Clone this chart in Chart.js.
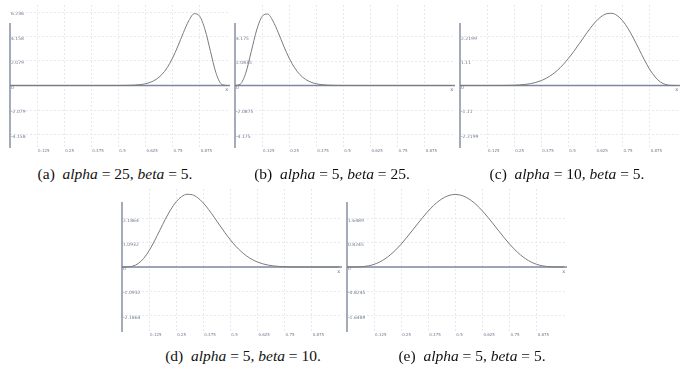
<!DOCTYPE html>
<html>
<head>
<meta charset="utf-8">
<script src="https://cdn.jsdelivr.net/npm/chart.js"></script>
<style>
  html, body { margin:0; padding:0; background:#fff; }
  body { width:685px; height:371px; position:relative; overflow:hidden; }
  canvas { position:absolute; }
  .cap { position:absolute; transform:translateX(-50%); white-space:nowrap;
         font-family:"Liberation Serif","DejaVu Serif",serif; font-size:15.5px; color:#111; line-height:16px; }
  .cap i { font-style:italic; }
</style>
</head>
<body>
<canvas id="ca" width="240" height="160"></canvas>
<canvas id="cb" width="240" height="160"></canvas>
<canvas id="cc" width="240" height="160"></canvas>
<canvas id="cd" width="240" height="161"></canvas>
<canvas id="ce" width="240" height="161"></canvas>
<div class="cap" style="left:115px;top:166px">(a)&nbsp; <i>alpha</i> = 25, <i>beta</i> = 5.</div>
<div class="cap" style="left:332px;top:166px">(b)&nbsp; <i>alpha</i> = 5, <i>beta</i> = 25.</div>
<div class="cap" style="left:567px;top:166px">(c)&nbsp; <i>alpha</i> = 10, <i>beta</i> = 5.</div>
<div class="cap" style="left:243px;top:348px">(d)&nbsp; <i>alpha</i> = 5, <i>beta</i> = 10.</div>
<div class="cap" style="left:472px;top:348px">(e)&nbsp; <i>alpha</i> = 5, <i>beta</i> = 5.</div>
<script>
// ---- data ----
const xValues = [0,0.025,0.05,0.075,0.1,0.125,0.15,0.175,0.2,0.225,0.25,0.275,0.3,0.325,0.35,0.375,0.4,0.425,0.45,0.475,0.5,
                 0.525,0.55,0.575,0.6,0.625,0.65,0.675,0.7,0.725,0.75,0.775,0.8,0.825,0.85,0.875,0.9,0.925,0.95,0.975,1];

const densityA = [0,0,0,0,0,0,0,0,0,0,0,0,0,0,0,0,0,0,0,0.001,0.002,
                  0.006,0.014,0.033,0.072,0.148,0.288,0.530,0.921,1.508,2.328,3.354,4.487,5.50,6.09,5.88,4.73,2.89,1.083,0.126,0];
const densityB = [0,0.126,1.083,2.89,4.73,5.88,6.09,5.50,4.487,3.354,2.328,1.508,0.921,0.530,0.288,0.148,0.072,0.033,0.014,0.006,0.002,
                  0.001,0,0,0,0,0,0,0,0,0,0,0,0,0,0,0,0,0,0,0];
const densityC = [0,0,0,0,0,0,0.0002,0.0007,0.0021,0.0053,0.0121,0.0249,0.0473,0.0841,0.141,0.224,0.340,0.495,0.693,0.936,1.222,
                  1.544,1.889,2.241,2.583,2.881,3.111,3.248,3.271,3.168,2.936,2.586,2.149,1.662,1.174,0.734,0.388,0.157,0.039,0.003,0];
const densityD = [0,0.003,0.039,0.157,0.388,0.734,1.174,1.662,2.149,2.586,2.936,3.168,3.271,3.248,3.111,2.881,2.583,2.241,1.889,1.544,1.222,
                  0.936,0.693,0.495,0.340,0.224,0.141,0.0841,0.0473,0.0249,0.0121,0.0053,0.0021,0.0007,0.0002,0,0,0,0,0,0];
const densityE = [0,0.0002,0.0032,0.0146,0.0413,0.0902,0.1665,0.2737,0.4129,0.5825,0.7787,0.9955,1.2252,1.4591,1.6876,1.9010,2.0902,2.2468,2.3639,2.4364,2.4609,
                  2.4364,2.3639,2.2468,2.0902,1.9010,1.6876,1.4591,1.2252,0.9955,0.7787,0.5825,0.4129,0.2737,0.1665,0.0902,0.0413,0.0146,0.0032,0.0002,0];

const xTickValues = [0.125,0.25,0.375,0.5,0.625,0.75,0.875];
const xTickLabels = ["0.125","0.25","0.375","0.5","0.625","0.75","0.875"];

const yTicksA = [-4.158,-2.079,0,2.079,4.158,6.236];
const yLabelsA = ["-4.158","-2.079","0","2.079","4.158","6.236"];
const yTicksB = [-4.175,-2.0875,0,2.0875,4.175];
const yLabelsB = ["-4.175","-2.0875","0","2.0875","4.175"];
const yTicksC = [-2.2199,-1.11,0,1.11,2.2199];
const yLabelsC = ["-2.2199","-1.11","0","1.11","2.2199"];
const yTicksD = [-2.1864,-1.0932,0,1.0932,2.1864];
const yLabelsD = ["-2.1864","-1.0932","0","1.0932","2.1864"];
const yTicksE = [-1.6489,-0.8245,0,0.8245,1.6489];
const yLabelsE = ["-1.6489","-0.8245","0","0.8245","1.6489"];

// ---- layout (pixels) ----
const panels = [
  {id:'ca', vals:densityA, ticks:yTicksA, labels:yLabelsA, axisX:10,  zeroY:85.5, top:5,   bottom:148, pxStep:24.5},
  {id:'cb', vals:densityB, ticks:yTicksB, labels:yLabelsB, axisX:235, zeroY:85.5, top:5,   bottom:148, pxStep:24.5},
  {id:'cc', vals:densityC, ticks:yTicksC, labels:yLabelsC, axisX:460, zeroY:85.5, top:5,   bottom:148, pxStep:24.5},
  {id:'cd', vals:densityD, ticks:yTicksD, labels:yLabelsD, axisX:122, zeroY:267,  top:189, bottom:332, pxStep:24.3},
  {id:'ce', vals:densityE, ticks:yTicksE, labels:yLabelsE, axisX:347, zeroY:267,  top:189, bottom:332, pxStep:24.3},
];

const AXIS_COLOR = '#7d889c';
const GRID_COLOR = '#e8e9ee';
const TICK_COLOR = '#6f7a90';
const CURVE_COLOR = '#7a7a7a';
const X_MAX = 1.015;
const PAD_L = 10, PAD_T = 5, X_AXIS_H = 12, AREA_W = 220;

const axesPlugin = {
  id: 'axesLines',
  beforeDatasetsDraw(chart) {
    const {ctx, scales:{x, y}} = chart;
    const x0 = x.getPixelForValue(0), y0 = y.getPixelForValue(0);
    ctx.save();
    ctx.strokeStyle = AXIS_COLOR;
    ctx.lineWidth = 1.4;
    ctx.beginPath();
    ctx.moveTo(x0, y.getPixelForValue(-y.min));
    ctx.lineTo(x0, y.getPixelForValue(y.min));
    ctx.stroke();
    ctx.lineWidth = 1.6;
    ctx.beginPath();
    ctx.moveTo(x0, y0);
    ctx.lineTo(x.getPixelForValue(X_MAX), y0);
    ctx.stroke();
    ctx.restore();
  },
  afterDraw(chart) {
    const {ctx, scales:{x, y}} = chart;
    ctx.save();
    ctx.fillStyle = TICK_COLOR;
    ctx.font = '5px "DejaVu Sans"';
    ctx.textAlign = 'center';
    ctx.textBaseline = 'top';
    ctx.fillText('x', x.getPixelForValue(1), y.getPixelForValue(0) + 2);
    ctx.restore();
  }
};

panels.forEach(p => {
  const cv = document.getElementById(p.id);
  const H = PAD_T + (p.bottom - p.top) + X_AXIS_H;
  cv.height = H; cv.width = PAD_L + AREA_W + 10;
  cv.style.left = (p.axisX - PAD_L) + 'px';
  cv.style.top = (p.top - PAD_T) + 'px';
  const step = p.ticks[p.ticks.indexOf(0) + 1];
  const unitPerPx = step / p.pxStep;
  const yMax = (p.zeroY - p.top) * unitPerPx;
  const yMin = -(p.bottom - p.zeroY) * unitPerPx;
  new Chart(cv.getContext('2d'), {
    type: 'line',
    data: { datasets: [{
      data: xValues.map((x, i) => ({x, y: p.vals[i]})),
      borderColor: CURVE_COLOR, borderWidth: 1, pointRadius: 0,
      cubicInterpolationMode: 'monotone', fill: false
    }]},
    options: {
      responsive: false, animation: false, events: [],
      layout: { padding: { left: PAD_L, top: PAD_T, right: cv.width - PAD_L - AREA_W, bottom: 0 } },
      plugins: { legend: {display:false}, tooltip: {enabled:false} },
      scales: {
        x: {
          type: 'linear', min: 0, max: X_MAX,
          border: { display:false, dash:[2,2] },
          grid: { color: GRID_COLOR, lineWidth: 1, drawTicks: false },
          ticks: { align:'start', labelOffset: 1, padding: 1, maxRotation: 0, autoSkip: false,
                   color: TICK_COLOR, font: { size: 4, family: 'DejaVu Sans' },
                   callback: (v) => { const k = xTickValues.indexOf(v); return k >= 0 ? xTickLabels[k] : ''; } },
          afterBuildTicks: (s) => { s.ticks = xTickValues.map(v => ({value: v})); },
          afterFit: (s) => { s.height = X_AXIS_H; }
        },
        y: {
          type: 'linear', min: yMin, max: yMax,
          border: { display:false, dash:[2,2] },
          grid: { color: GRID_COLOR, lineWidth: 1, drawTicks: false },
          ticks: { mirror: true, padding: 1, labelOffset: 2, color: TICK_COLOR,
                   font: { size: 4.5, family: 'DejaVu Sans' },
                   callback: (v) => { const k = p.ticks.indexOf(v); return k >= 0 ? p.labels[k] : ''; } },
          afterBuildTicks: (s) => { s.ticks = p.ticks.map(v => ({value: v})); },
          afterFit: (s) => { s.width = 0; }
        }
      }
    },
    plugins: [axesPlugin]
  });
});
</script>
</body>
</html>
